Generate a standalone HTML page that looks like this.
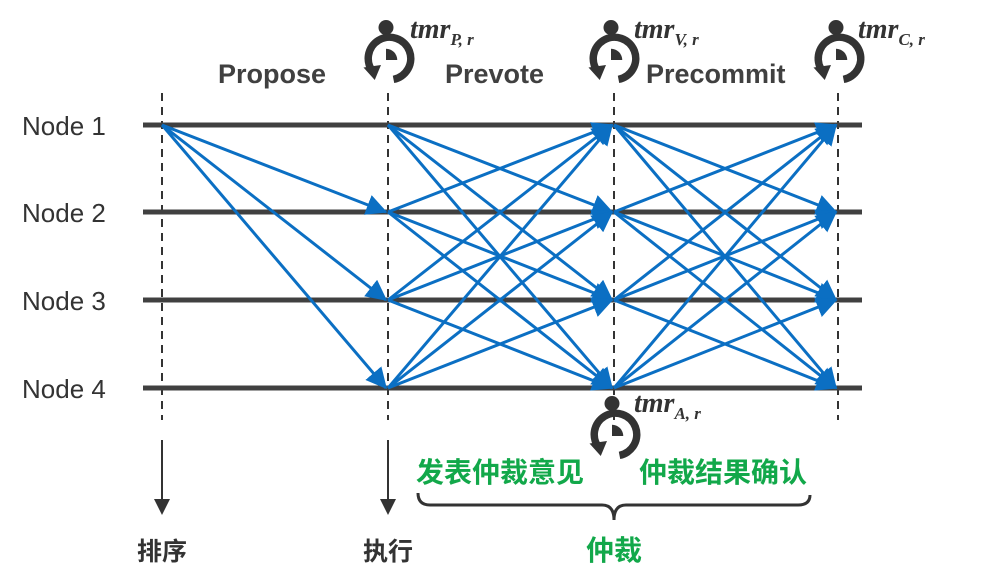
<!DOCTYPE html><html><head><meta charset="utf-8"><style>body{margin:0;background:#fff}svg{display:block}</style></head><body>
<svg width="1007" height="581" viewBox="0 0 1007 581" xmlns="http://www.w3.org/2000/svg" font-family="'Liberation Sans','Noto Sans CJK SC',sans-serif">
<defs>
<marker id="a" markerWidth="7" markerHeight="7" refX="6.5" refY="3.5" orient="auto" markerUnits="strokeWidth"><path d="M0,0 L7,3.5 L0,7 z" fill="#0b6fc3"/></marker>
<marker id="k" markerWidth="8" markerHeight="8" refX="7" refY="4" orient="auto" markerUnits="strokeWidth"><path d="M0,0 L8,4 L0,8 z" fill="#333"/></marker>
<g id="sw" transform="scale(1.25)"><circle cx="0" cy="-26" r="6" fill="#333"/><rect x="-2" y="-22" width="4" height="5" fill="#333"/><path d="M-10,10 A17,17 0 1 1 6,15.5" fill="none" stroke="#333" stroke-width="6"/><path d="M-18,6 L-4,4 L-9,16 z" fill="#333"/><path d="M0,-9 A9,9 0 0 1 9,0 L0,0 z" fill="#333"/></g>
</defs>
<g stroke="#333" stroke-width="2" stroke-dasharray="8,6" fill="none">
<line x1="162" y1="93" x2="162" y2="420"/><line x1="388" y1="93" x2="388" y2="420"/><line x1="614" y1="93" x2="614" y2="420"/><line x1="838" y1="93" x2="838" y2="420"/>
</g>
<g stroke="#333" stroke-width="2"><line x1="162" y1="440" x2="162" y2="513" marker-end="url(#k)"/><line x1="388" y1="440" x2="388" y2="513" marker-end="url(#k)"/></g>
<g stroke="#404040" stroke-width="5"><line x1="143" y1="125" x2="862" y2="125"/><line x1="143" y1="212" x2="862" y2="212"/><line x1="143" y1="300" x2="862" y2="300"/><line x1="143" y1="388" x2="862" y2="388"/></g>
<g stroke="#0b6fc3" stroke-width="3" marker-end="url(#a)">
<line x1="162" y1="125" x2="386" y2="212"/><line x1="162" y1="125" x2="386" y2="300"/><line x1="162" y1="125" x2="386" y2="388"/>
<line x1="388" y1="125" x2="612" y2="212"/><line x1="388" y1="125" x2="612" y2="300"/><line x1="388" y1="125" x2="612" y2="388"/>
<line x1="388" y1="212" x2="612" y2="125"/><line x1="388" y1="212" x2="612" y2="300"/><line x1="388" y1="212" x2="612" y2="388"/>
<line x1="388" y1="300" x2="612" y2="125"/><line x1="388" y1="300" x2="612" y2="212"/><line x1="388" y1="300" x2="612" y2="388"/>
<line x1="388" y1="388" x2="612" y2="125"/><line x1="388" y1="388" x2="612" y2="212"/><line x1="388" y1="388" x2="612" y2="300"/>
<line x1="614" y1="125" x2="836" y2="212"/><line x1="614" y1="125" x2="836" y2="300"/><line x1="614" y1="125" x2="836" y2="388"/>
<line x1="614" y1="212" x2="836" y2="125"/><line x1="614" y1="212" x2="836" y2="300"/><line x1="614" y1="212" x2="836" y2="388"/>
<line x1="614" y1="300" x2="836" y2="125"/><line x1="614" y1="300" x2="836" y2="212"/><line x1="614" y1="300" x2="836" y2="388"/>
<line x1="614" y1="388" x2="836" y2="125"/><line x1="614" y1="388" x2="836" y2="212"/><line x1="614" y1="388" x2="836" y2="300"/>
</g>
<g font-size="26" fill="#333"><text x="22" y="135">Node 1</text><text x="22" y="222">Node 2</text><text x="22" y="310">Node 3</text><text x="22" y="398">Node 4</text></g>
<g font-size="27" font-weight="bold" fill="#404040"><text x="218" y="83">Propose</text><text x="445" y="83">Prevote</text><text x="646" y="83">Precommit</text></g>
<use href="#sw" x="386" y="60"/><use href="#sw" x="611" y="60"/><use href="#sw" x="836" y="60"/><use href="#sw" x="612" y="436"/>
<g font-family="'Liberation Serif',serif" font-style="italic" font-weight="bold" fill="#333" font-size="28">
<text x="410" y="38">tmr<tspan font-size="17" dy="7">P, r</tspan></text>
<text x="634" y="38">tmr<tspan font-size="17" dy="7">V, r</tspan></text>
<text x="858" y="38">tmr<tspan font-size="17" dy="7">C, r</tspan></text>
<text x="634" y="412">tmr<tspan font-size="17" dy="7">A, r</tspan></text>
</g>
<g font-size="28" font-weight="bold" fill="#12a84a" text-anchor="middle"><text x="500" y="482">发表仲裁意见</text><text x="723" y="482">仲裁结果确认</text><text x="614" y="560">仲裁</text></g>
<g font-size="25" font-weight="bold" fill="#333" text-anchor="middle"><text x="162" y="560">排序</text><text x="388" y="560">执行</text></g>
<path d="M418,493 Q418,505 430,505 L602,505 Q614,505 614,520 Q614,505 626,505 L798,505 Q810,505 810,495" fill="none" stroke="#333" stroke-width="3"/>
</svg></body></html>
